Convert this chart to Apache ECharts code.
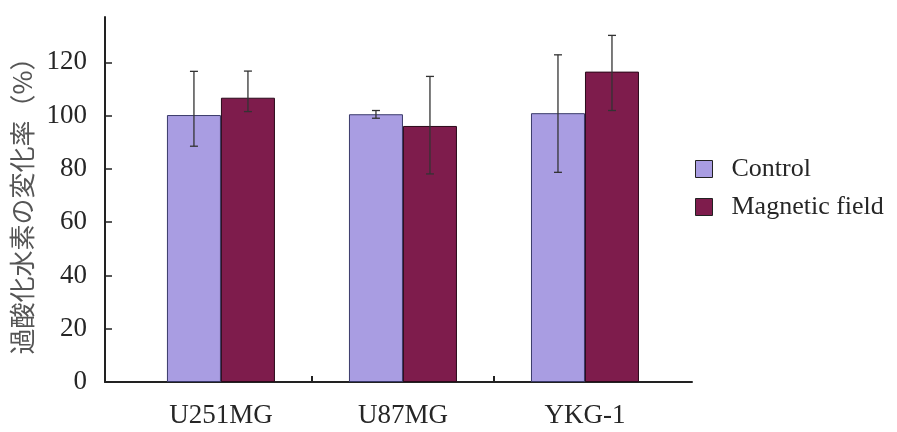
<!DOCTYPE html>
<html>
<head>
<meta charset="utf-8">
<script src="https://cdn.jsdelivr.net/npm/echarts@6/dist/echarts.min.js"></script>
<style>
  html, body { margin: 0; padding: 0; background: #fff; }
  #chart { width: 897px; height: 432px; }
</style>
</head>
<body>
<div id="chart"></div>
<script>
// --- data ---
const categories = ['U251MG', 'U87MG', 'YKG-1'];
const catPos = [1, 2, 3];
const seriesNames = ['Control', 'Magnetic field'];
const controlValues = [100.2, 100.5, 100.9];
const controlErrLow = [88.5, 99.0, 78.7];
const controlErrHigh = [116.6, 101.9, 122.8];
const magneticValues = [106.7, 96.1, 116.5];
const magneticErrLow = [101.5, 78.1, 101.9];
const magneticErrHigh = [116.7, 114.7, 130.1];
const yTicks = [0, 20, 40, 60, 80, 100, 120];

const COLORS = {
  control: '#a99de2',
  magnetic: '#7e1c4c',
  axis: '#222',
  text: '#262626'
};

const BAR_W = 54;

const chart = echarts.init(document.getElementById('chart'));

// 误差线
const errorSeries = (name, low, high, offset) => ({
  type: 'custom',
  name: name + ' err',
  z: 10,
  silent: true,
  data: catPos.map((x, i) => [x, low[i], high[i]]),
  renderItem: (params, api) => {
    const pLow = api.coord([api.value(0), api.value(1)]);
    const pHigh = api.coord([api.value(0), api.value(2)]);
    const x = pLow[0] + offset;
    const cap = 4;
    const style = { stroke: '#333', lineWidth: 1.3 };
    return {
      type: 'group',
      children: [
        { type: 'line', shape: { x1: x, y1: pLow[1], x2: x, y2: pHigh[1] }, style },
        { type: 'line', shape: { x1: x - cap, y1: pLow[1], x2: x + cap, y2: pLow[1] }, style },
        { type: 'line', shape: { x1: x - cap, y1: pHigh[1], x2: x + cap, y2: pHigh[1] }, style }
      ]
    };
  }
});

const option = {
  backgroundColor: '#fff',
  animation: false,
  grid: { left: 105, right: 205, top: 17, bottom: 50, containLabel: false, outerBoundsMode: 'none' },
  legend: {
    orient: 'vertical',
    left: 690,
    top: 151,
    itemWidth: 17,
    itemHeight: 17,
    itemGap: 12,
    data: seriesNames.map((n, i) => ({
      name: n,
      itemStyle: { color: i === 0 ? COLORS.control : COLORS.magnetic, borderColor: '#222', borderWidth: 1 }
    })),
    icon: 'rect',
    textStyle: { fontFamily: 'Liberation Serif', fontSize: 26, color: COLORS.text, padding: [0, 0, 0, 14] }
  },
  xAxis: {
    type: 'value',
    min: 0.363,
    max: 3.588,
    splitLine: { show: false },
    axisLine: { show: true, onZero: false, lineStyle: { color: COLORS.axis, width: 2 } },
    axisTick: { show: true, inside: true, length: 6, customValues: [1.5, 2.5], lineStyle: { color: COLORS.axis, width: 2 } },
    axisLabel: {
      customValues: catPos,
      formatter: (v) => categories[catPos.indexOf(v)] || '',
      margin: 20,
      fontFamily: 'Liberation Serif',
      fontSize: 27,
      color: COLORS.text
    }
  },
  yAxis: {
    type: 'value',
    min: 0,
    max: 137,
    name: '過酸化水素の変化率（%）',
    nameLocation: 'middle',
    nameRotate: 90,
    nameGap: 69,
    nameTextStyle: { fontFamily: 'Noto Sans CJK JP', fontSize: 26, color: '#555' },
    splitLine: { show: false },
    axisLine: { show: true, lineStyle: { color: COLORS.axis, width: 2 } },
    axisTick: { show: true, inside: true, length: 7, customValues: yTicks, lineStyle: { color: COLORS.axis, width: 1.5 } },
    axisLabel: {
      customValues: yTicks,
      margin: 18,
      fontFamily: 'Liberation Serif',
      fontSize: 27,
      color: COLORS.text
    }
  },
  series: [
    {
      name: seriesNames[0],
      type: 'bar',
      barWidth: BAR_W,
      barGap: '0%',
      data: catPos.map((x, i) => [x, controlValues[i]]),
      itemStyle: { color: COLORS.control, borderColor: '#3a3a6a', borderWidth: 1 }
    },
    {
      name: seriesNames[1],
      type: 'bar',
      barWidth: BAR_W,
      barGap: '0%',
      data: catPos.map((x, i) => [x, magneticValues[i]]),
      itemStyle: { color: COLORS.magnetic, borderColor: '#2a0a1a', borderWidth: 1 }
    },
    errorSeries(seriesNames[0], controlErrLow, controlErrHigh, -BAR_W / 2),
    errorSeries(seriesNames[1], magneticErrLow, magneticErrHigh, BAR_W / 2)
  ]
};

chart.setOption(option);
</script>
</body>
</html>
